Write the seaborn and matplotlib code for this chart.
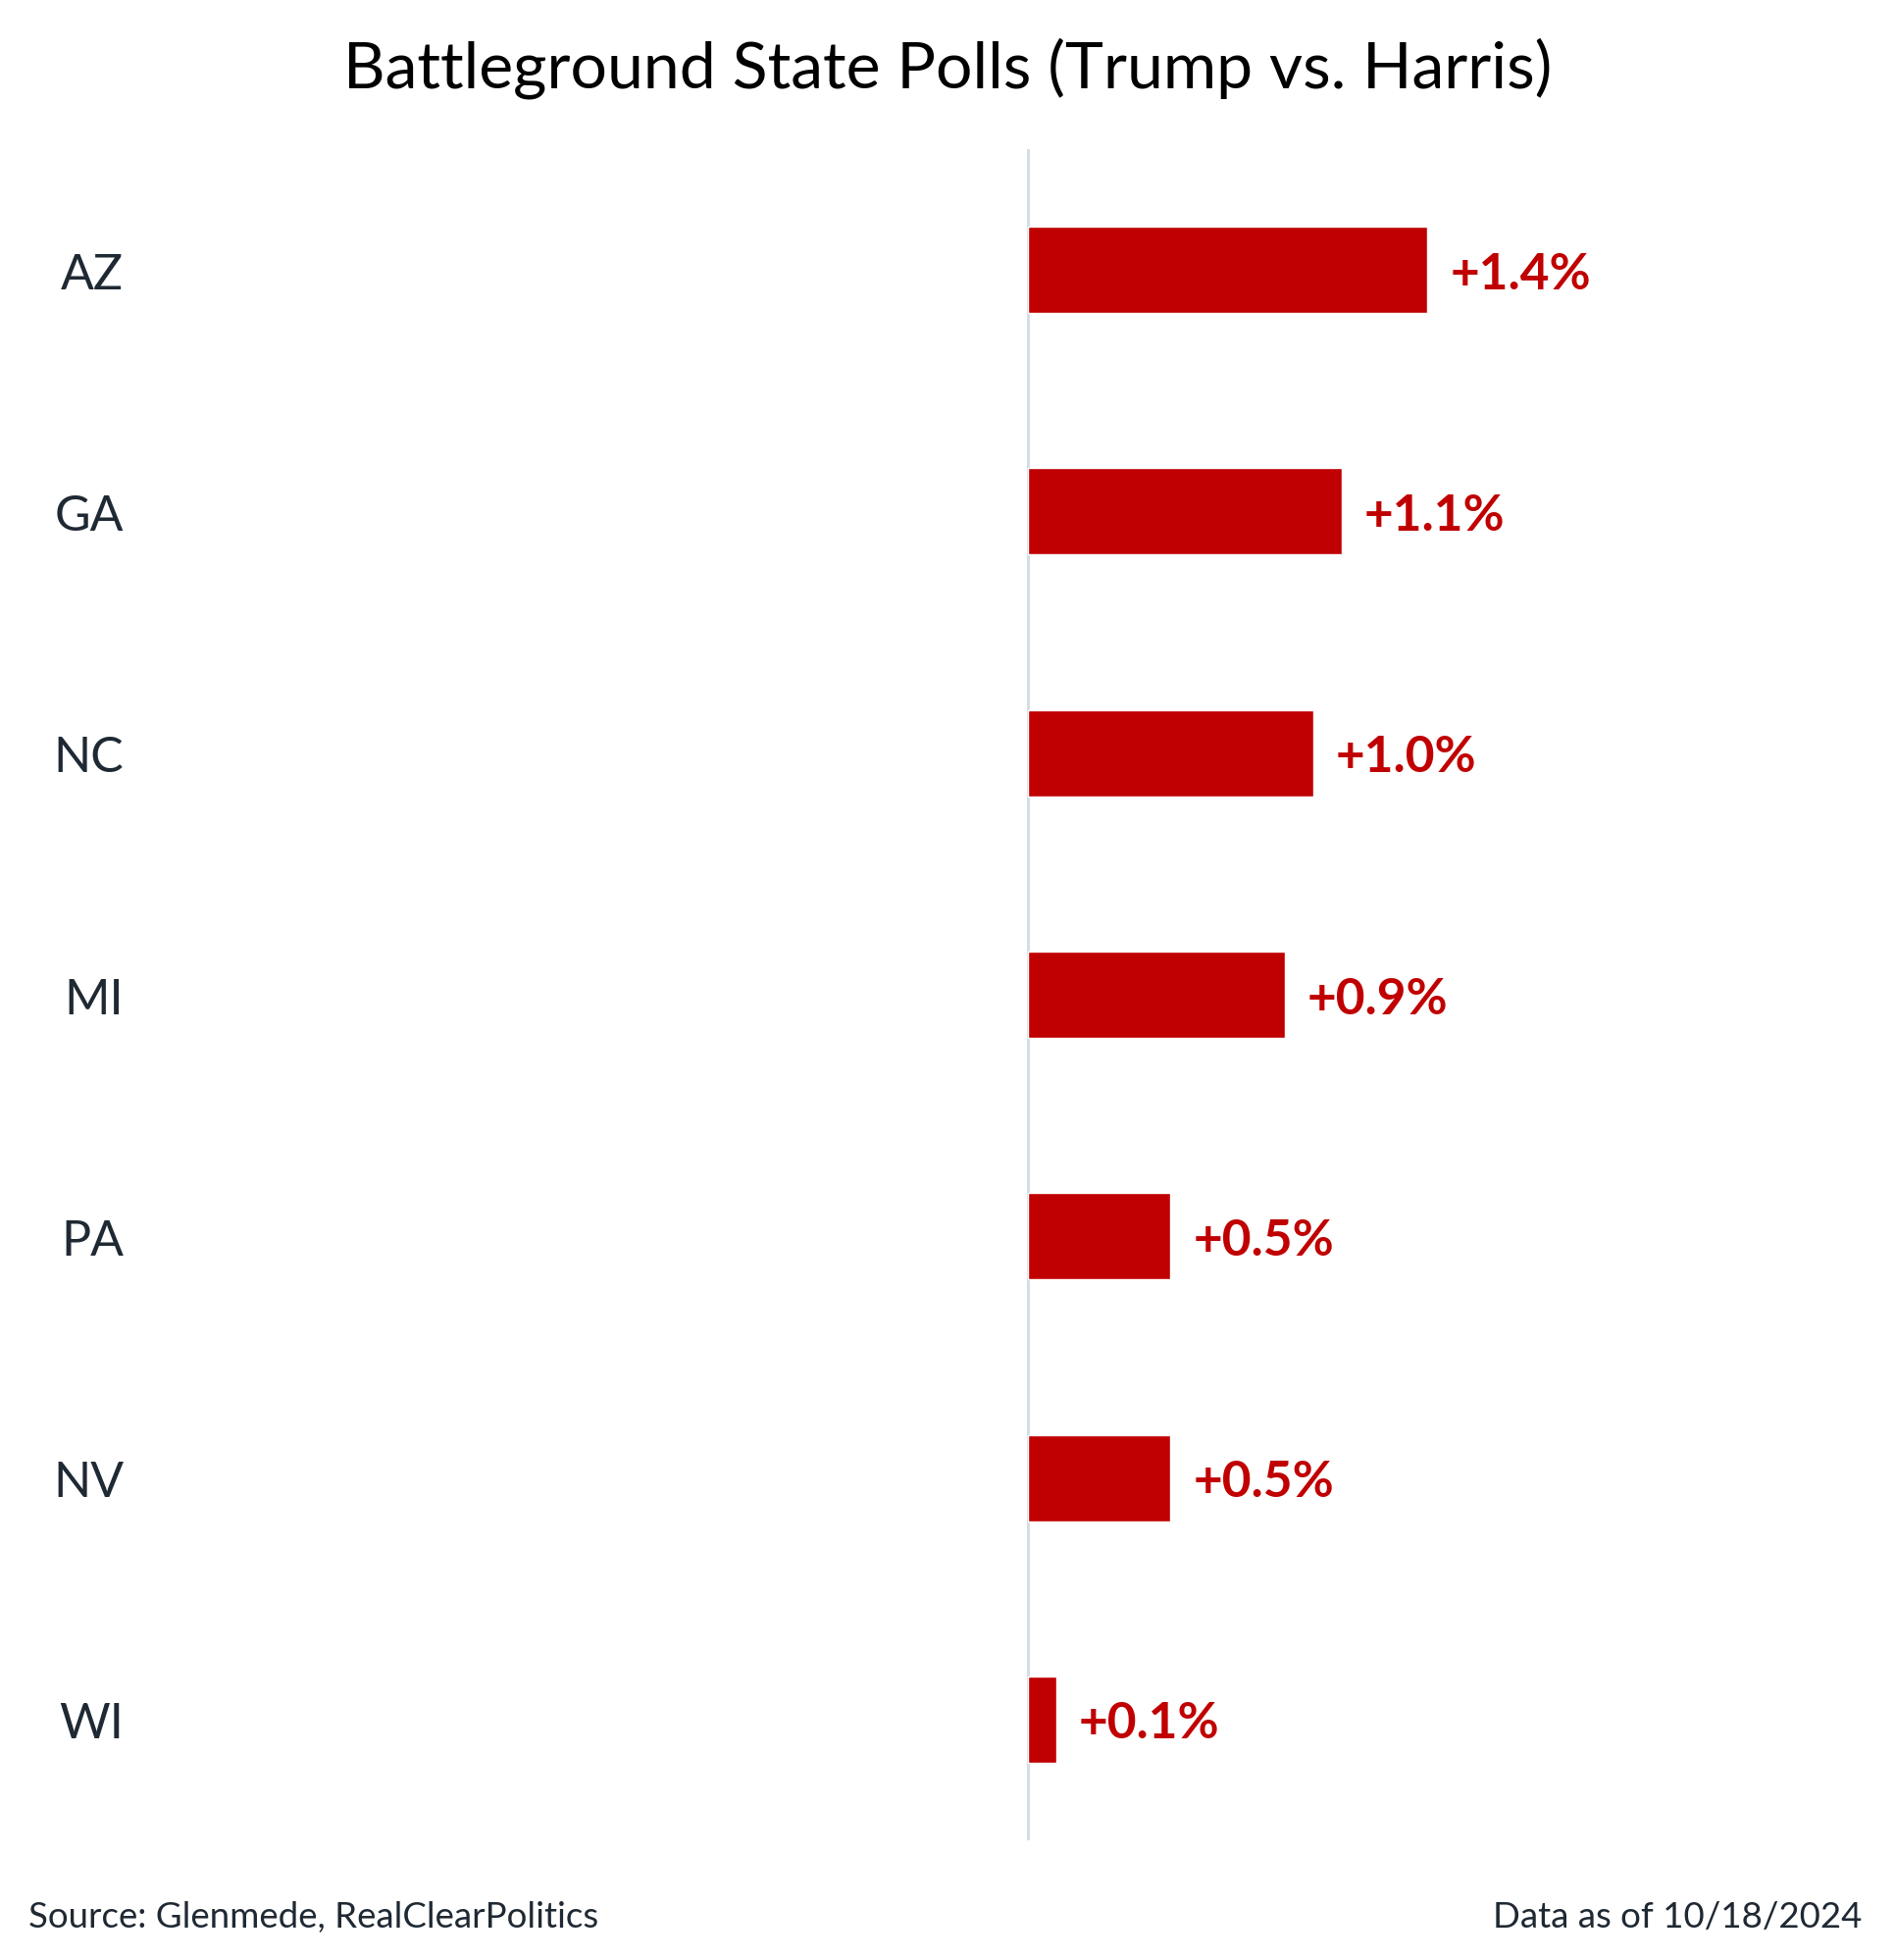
import matplotlib
matplotlib.use("Agg")
import matplotlib.pyplot as plt
import seaborn as sns
import pandas as pd

states = ["AZ", "GA", "NC", "MI", "PA", "NV", "WI"]
margins = [1.4, 1.1, 1.0, 0.9, 0.5, 0.5, 0.1]
value_labels = ["+1.4%", "+1.1%", "+1.0%", "+0.9%", "+0.5%", "+0.5%", "+0.1%"]

title = "Battleground State Polls (Trump vs. Harris)"
source = "Source: Glenmede, RealClearPolitics"
asof = "Data as of 10/18/2024"

sns.set_theme(style="white")
plt.rcParams["font.family"] = ["Lato", "DejaVu Sans"]

W, H = 1933, 1999
fig = plt.figure(figsize=(W / 100, H / 100), dpi=100)
ax_left, ax_right = 140, 1900
ax_top, ax_bot = 153, 1877
ax = fig.add_axes([ax_left / W, 1 - ax_bot / H, (ax_right - ax_left) / W, (ax_bot - ax_top) / H])

df = pd.DataFrame({"state": states, "margin": margins})
sns.barplot(data=df, x="margin", y="state", orient="h", color="#C00000",
            saturation=1, width=0.357, ax=ax, zorder=3)

unit = 291.0
zero_px = 1048
ax.set_xlim(-(zero_px - ax_left) / unit, (ax_right - zero_px) / unit)
ax.set_ylim(len(states) - 0.5, -0.5)
ax.axvline(0, color="#d5dde6", lw=2.2, zorder=2)

for i, (v, lab) in enumerate(zip(margins, value_labels)):
    ax.annotate(lab, xy=(v, i), xytext=(23, -4), textcoords="offset pixels",
                ha="left", va="center", color="#C00000", fontsize=37,
                fontweight="bold")

for s in ax.spines.values():
    s.set_visible(False)
ax.set_xticks([])
ax.set_xlabel("")
ax.set_ylabel("")
ax.tick_params(axis="y", length=0, pad=10, labelsize=36, labelcolor="#1f2933")

fig.text(0.5, 1 - 70 / H, title, ha="center", va="center", fontsize=47.6, color="black")
fig.text(29 / W, 1 - 1955 / H, source, ha="left", va="center", fontsize=26.4, color="#1f2933")
fig.text(1898 / W, 1 - 1955 / H, asof, ha="right", va="center", fontsize=26.4, color="#1f2933")

fig.savefig("out.png", dpi=100, facecolor="white")
